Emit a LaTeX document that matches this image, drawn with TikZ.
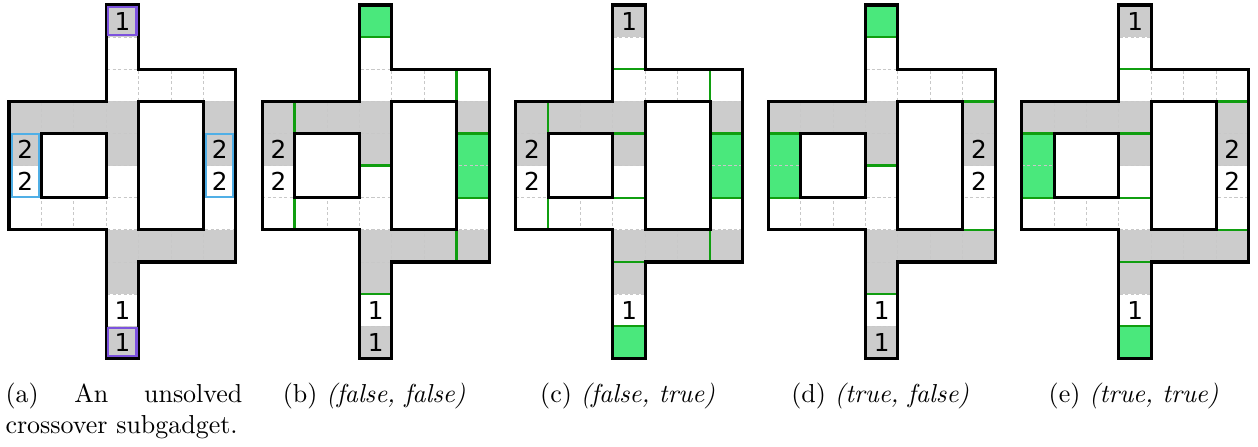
\documentclass[tikz,border=0pt]{standalone}
\usepackage{fontspec}
\newfontfamily\numfont{DejaVu Sans}
\definecolor{cellgray}{RGB}{204,204,204}
\definecolor{cellgreen}{RGB}{74,232,124}
\definecolor{greenline}{RGB}{16,158,16}
\definecolor{gridgray}{RGB}{200,200,200}
\definecolor{boxpurple}{RGB}{124,82,222}
\definecolor{boxblue}{RGB}{80,175,230}
\tikzset{
  outl/.style={draw=black,line width=1.2pt},
  gridl/.style={draw=gridgray,line width=0.35pt,dash pattern=on 1.2pt off 0.9pt},
  greenl/.style={draw=greenline,line width=0.95pt},
  purplebox/.style={draw=boxpurple,line width=0.8pt},
  bluebox/.style={draw=boxblue,line width=0.8pt},
  num/.style={font=\numfont\fontsize{9.5}{11}\selectfont,inner sep=0pt},
  capt/.style={inner sep=0pt,font=\fontsize{10}{12}\selectfont}
}
\newcommand\outlinepath{(3,0) -- (4,0) -- (4,2) -- (7,2) -- (7,8) -- (4,8) -- (4,11) -- (3,11) -- (3,7) -- (0,7) -- (0,3) -- (3,3) -- cycle}
\newcommand\holespath{(1,4) rectangle (3,6) (4,3) rectangle (6,7)}
% #1 x offset (px), #2 gray cells, #3 green cells, #4 green lines, #5 numbers, #6 extras
\newcommand\drawgadget[6]{%
\begin{scope}[shift={(#1*0.385pt,-5*0.385pt)},x=12.474pt,y=-12.366pt]
  \fill[white] \outlinepath;
  \foreach \cx/\cy in {#2} \fill[cellgray] (\cx,\cy) rectangle ++(1,1);
  \foreach \cx/\cy in {#3} \fill[cellgreen] (\cx,\cy) rectangle ++(1,1);
  \begin{scope}
    \clip \outlinepath;
    \foreach \i in {1,...,10} \draw[gridl] (0,\i) -- (7,\i);
    \foreach \i in {1,...,6} \draw[gridl] (\i,0) -- (\i,11);
  \end{scope}
  \fill[white] \holespath;
  \foreach \xa/\ya/\xb/\yb in {#4} \draw[greenl] (\xa,\ya) -- (\xb,\yb);
  \draw[outl] \outlinepath;
  \draw[outl] \holespath;
  #6
  \foreach \cx/\cy/\nn/\nm in {#5} \node[num] (\nm) at (\cx+0.5,\cy+0.5) {\nn};
\end{scope}}
\begin{document}
\begin{tikzpicture}[x=0.385pt,y=-0.385pt]
\useasboundingbox (0,0) rectangle (1258,446);
% (a)
\drawgadget{9}{0/3,1/3,2/3,3/3,6/3,3/4,3/7,4/7,5/7,6/7,3/8,0/4,6/4,3/0,3/10}{}{}%
 {3/0/1/a1,0/4/2/a2,0/5/2/a3,6/4/2/a4,6/5/2/a5,3/9/1/a6,3/10/1/a7}%
 {\draw[purplebox] (3.065,0.07) rectangle (3.935,0.935);
  \draw[purplebox] (3.065,10.065) rectangle (3.935,10.93);
  \draw[bluebox] (0.1,4.03) rectangle (0.925,5.99);
  \draw[bluebox] (6.075,4.03) rectangle (6.9,5.99);}
% (b)
\drawgadget{262.3}{0/3,1/3,2/3,3/3,6/3,3/4,3/7,4/7,5/7,6/7,3/8,0/4,3/10}{3/0,6/4,6/5}%
 {3/1/4/1,6/2/6/3,1/3/1/4,3/5/4/5,6/4/7/4,6/6/7/6,1/6/1/7,6/7/6/8,3/9/4/9}%
 {0/4/2/b1,0/5/2/b2,3/9/1/b3,3/10/1/b4}{}
% (c)
\drawgadget{515.7}{0/3,1/3,2/3,3/3,6/3,3/4,3/7,4/7,5/7,6/7,3/8,0/4,3/0}{3/10,6/4,6/5}%
 {3/2/4/2,6/2/6/3,1/3/1/4,3/4/4/4,6/4/7/4,6/6/7/6,3/6/4/6,1/6/1/7,6/7/6/8,3/8/4/8,3/10/4/10}%
 {3/0/1/c1,0/4/2/c2,0/5/2/c3,3/9/1/c4}{}
% (d)
\drawgadget{768.3}{0/3,1/3,2/3,3/3,6/3,3/4,3/7,4/7,5/7,6/7,3/8,6/4,3/10}{3/0,0/4,0/5}%
 {3/1/4/1,6/3/7/3,0/4/1/4,0/6/1/6,3/5/4/5,6/7/7/7,3/9/4/9}%
 {6/4/2/d1,6/5/2/d2,3/9/1/d3,3/10/1/d4}{}
% (e)
\drawgadget{1021.7}{0/3,1/3,2/3,3/3,6/3,3/4,3/7,4/7,5/7,6/7,3/8,6/4,3/0}{0/4,0/5,3/10}%
 {3/2/4/2,6/3/7/3,0/4/1/4,0/6/1/6,3/4/4/4,3/6/4/6,6/7/7/7,3/8/4/8,3/10/4/10}%
 {3/0/1/e1,6/4/2/e2,6/5/2/e3,3/9/1/e4}{}
% captions
\node[capt,anchor=north west,text width=91.2pt,align=justify] (capa) at (5,382.5) {(a) An unsolved crossover subgadget.};
\node[capt,anchor=base] (capb) at (374.2,402) {(b) \textit{(false, false)}};
\node[capt,anchor=base] (capc) at (627.6,402) {(c) \textit{(false, true)}};
\node[capt,anchor=base] (capd) at (880.2,402) {(d) \textit{(true, false)}};
\node[capt,anchor=base] (cape) at (1133.6,402) {(e) \textit{(true, true)}};
\end{tikzpicture}
\end{document}
